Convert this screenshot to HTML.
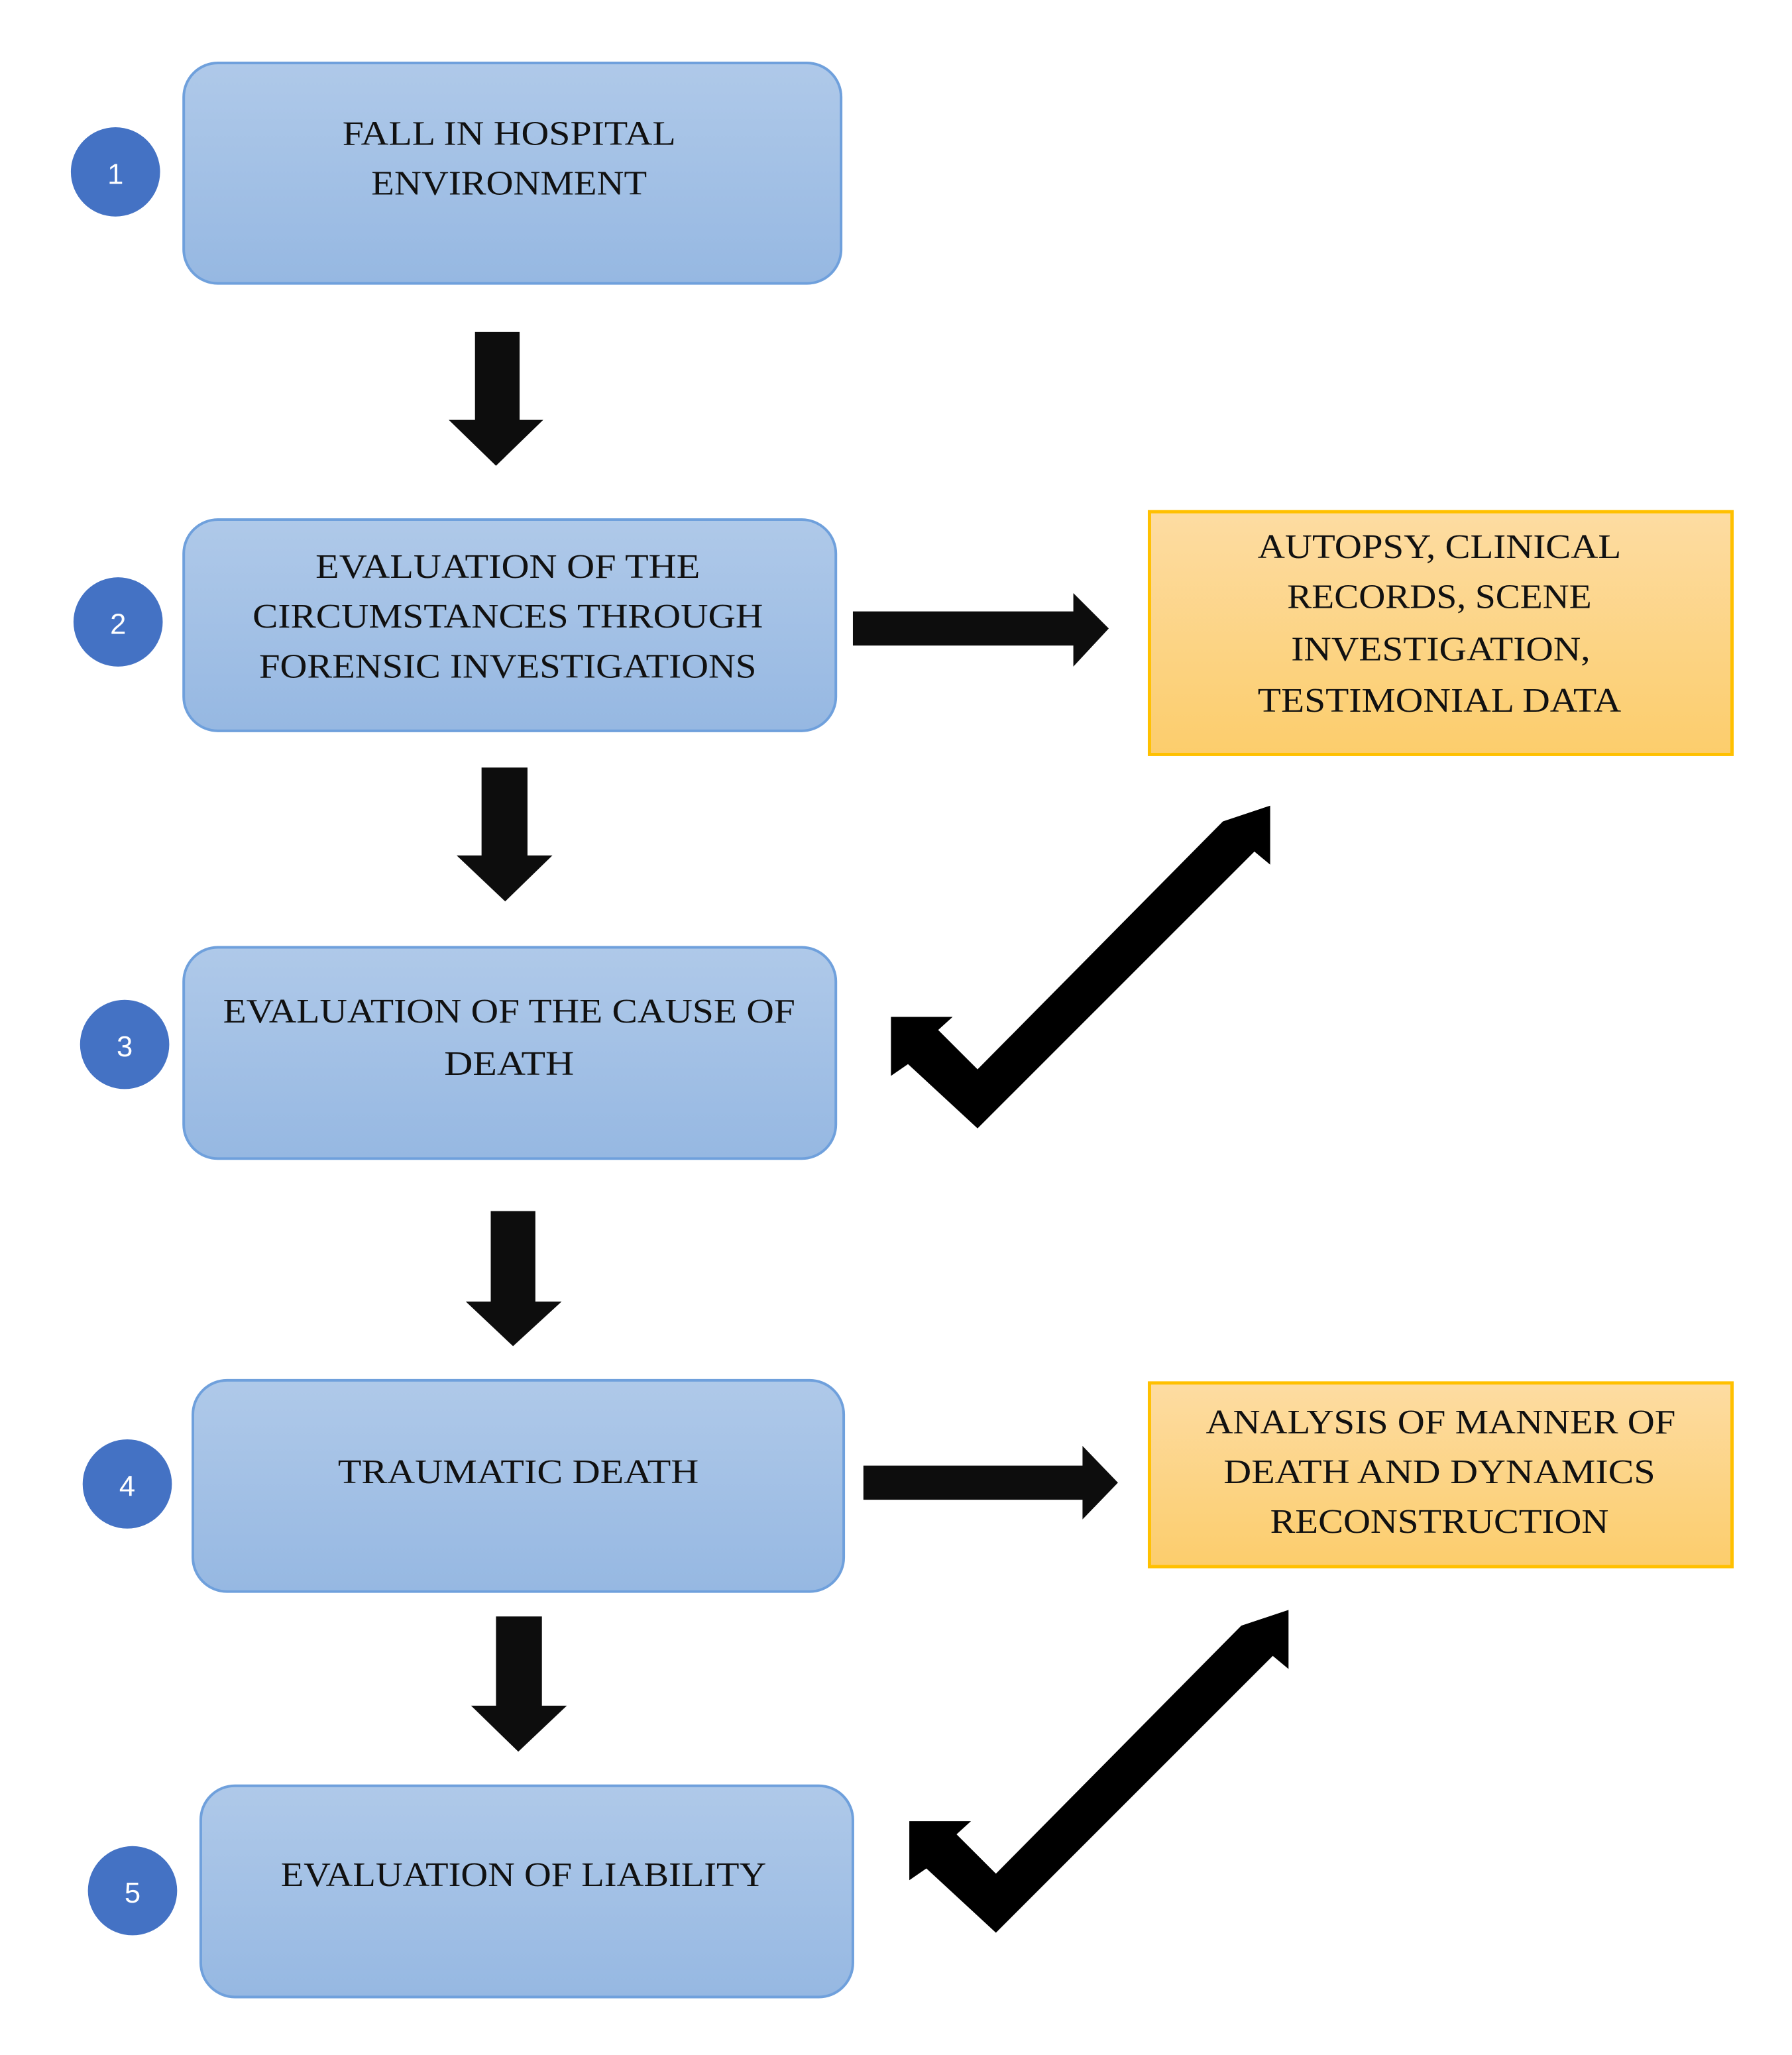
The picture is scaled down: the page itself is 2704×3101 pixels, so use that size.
<!DOCTYPE html>
<html><head><meta charset="utf-8"><style>
html,body{margin:0;padding:0;background:#fff;}
svg{display:block;}
text{font-family:"Liberation Serif",serif;font-size:26px;fill:#111;}
.n{font-family:"Liberation Sans",sans-serif;font-size:22px;fill:#fff;}
</style></head><body>
<svg width="2704" height="3101" viewBox="0 0 1365.7 1566.2" preserveAspectRatio="none" xmlns="http://www.w3.org/2000/svg">
<defs>
<linearGradient id="b" x1="0" y1="0" x2="0" y2="1"><stop offset="0" stop-color="#afc9e9"/><stop offset="1" stop-color="#96b8e2"/></linearGradient>
<linearGradient id="y" x1="0" y1="0" x2="0" y2="1"><stop offset="0" stop-color="#fddca2"/><stop offset="1" stop-color="#fccd6c"/></linearGradient>
<g id="chk"><polygon points="679,775 726,775 715,785 745,815 932,626 968,614 968,659 956,649 745,860 692,811 679,820" fill="#000"/></g>
</defs>
<g stroke="#6fa0dc" stroke-width="2" fill="url(#b)">
<rect x="140" y="48" width="501" height="168" rx="26"/>
<rect x="140" y="396" width="497" height="161" rx="26"/>
<rect x="140" y="722" width="497" height="161" rx="26"/>
<rect x="147" y="1052" width="496" height="161" rx="26"/>
<rect x="153" y="1361" width="497" height="161" rx="26"/>
</g>
<g stroke="#ffc000" stroke-width="2.5" fill="url(#y)">
<rect x="876" y="390" width="444" height="185"/>
<rect x="876" y="1054" width="444" height="140"/>
</g>
<g fill="#4472c4">
<circle cx="88" cy="131" r="34"/><circle cx="90" cy="474" r="34"/><circle cx="95" cy="796" r="34"/><circle cx="97" cy="1131" r="34"/><circle cx="101" cy="1441" r="34"/>
</g>
<g text-anchor="middle" dominant-baseline="central">
<text class="n" x="88" y="133">1</text><text class="n" x="90" y="476">2</text><text class="n" x="95" y="798">3</text><text class="n" x="97" y="1133">4</text><text class="n" x="101" y="1443">5</text>
</g>
<g fill="#0d0d0d">
<polygon points="362,253 396,253 396,320 414,320 378,355 342,320 362,320"/>
<polygon points="367,585 402,585 402,652 421,652 385,687 348,652 367,652"/>
<polygon points="374,923 408,923 408,992 428,992 391,1026 355,992 374,992"/>
<polygon points="378,1232 413,1232 413,1300 432,1300 395,1335 359,1300 378,1300"/>
<polygon points="650,466 818,466 818,452 845,479 818,508 818,492 650,492"/>
<polygon points="658,1117 825,1117 825,1102 852,1130 825,1158 825,1143 658,1143"/>
</g>
<use href="#chk"/>
<use href="#chk" transform="translate(14,613)"/>
<g text-anchor="middle" dominant-baseline="central">
<text x="388" y="102" textLength="254" lengthAdjust="spacingAndGlyphs">FALL IN HOSPITAL</text>
<text x="388" y="140" textLength="210" lengthAdjust="spacingAndGlyphs">ENVIRONMENT</text>
<text x="387" y="432" textLength="293" lengthAdjust="spacingAndGlyphs">EVALUATION OF THE</text>
<text x="387" y="470" textLength="389" lengthAdjust="spacingAndGlyphs">CIRCUMSTANCES THROUGH</text>
<text x="387" y="508" textLength="379" lengthAdjust="spacingAndGlyphs">FORENSIC INVESTIGATIONS</text>
<text x="388" y="771" textLength="436" lengthAdjust="spacingAndGlyphs">EVALUATION OF THE CAUSE OF</text>
<text x="388" y="811" textLength="99" lengthAdjust="spacingAndGlyphs">DEATH</text>
<text x="395" y="1122" textLength="275" lengthAdjust="spacingAndGlyphs">TRAUMATIC DEATH</text>
<text x="399" y="1429" textLength="370" lengthAdjust="spacingAndGlyphs">EVALUATION OF LIABILITY</text>
<text x="1097" y="417" textLength="277" lengthAdjust="spacingAndGlyphs">AUTOPSY, CLINICAL</text>
<text x="1097" y="455" textLength="232" lengthAdjust="spacingAndGlyphs">RECORDS, SCENE</text>
<text x="1098" y="495" textLength="228" lengthAdjust="spacingAndGlyphs">INVESTIGATION,</text>
<text x="1097" y="534" textLength="277" lengthAdjust="spacingAndGlyphs">TESTIMONIAL DATA</text>
<text x="1098" y="1084" textLength="358" lengthAdjust="spacingAndGlyphs">ANALYSIS OF MANNER OF</text>
<text x="1097" y="1122" textLength="329" lengthAdjust="spacingAndGlyphs">DEATH AND DYNAMICS</text>
<text x="1097" y="1160" textLength="258" lengthAdjust="spacingAndGlyphs">RECONSTRUCTION</text>
</g>
</svg>
</body></html>
